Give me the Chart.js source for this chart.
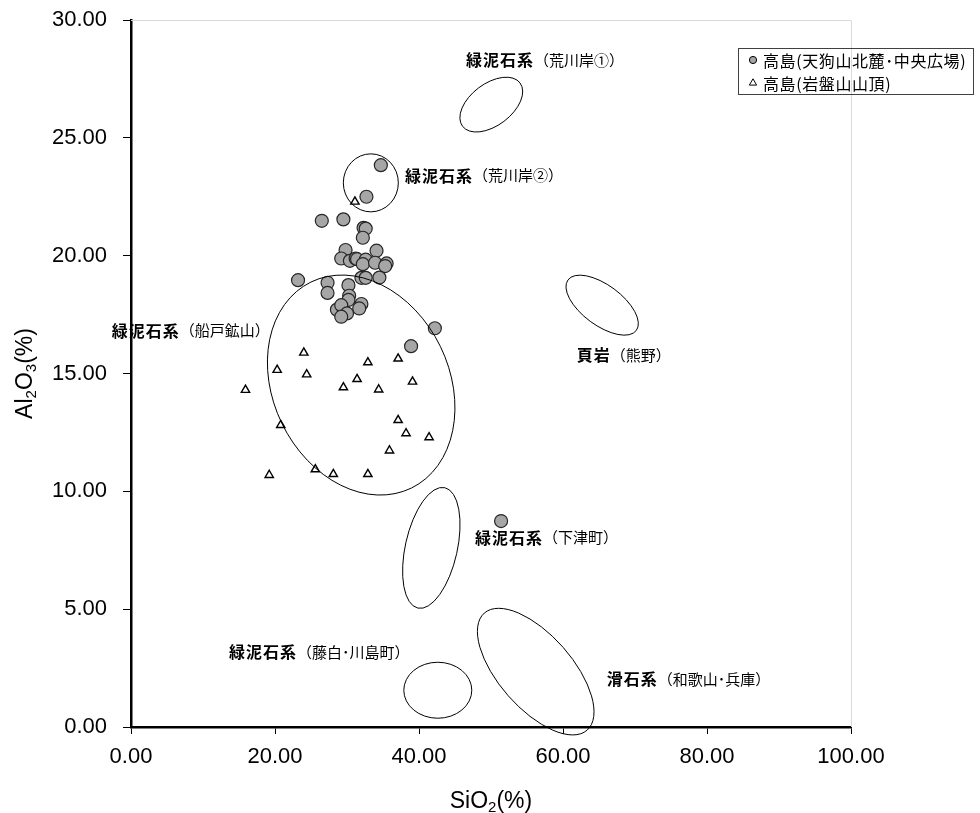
<!DOCTYPE html>
<html>
<head>
<meta charset="utf-8">
<script src="https://cdn.jsdelivr.net/npm/chart.js@4.4.1/dist/chart.umd.min.js"></script>
<style>
html,body{margin:0;padding:0;background:#fff;}
canvas{display:block;}
</style>
</head>
<body>
<canvas id="c" width="980" height="813"></canvas>
<script>
// ---- data ----
const seriesNames = ['高島(天狗山北麓･中央広場)', '高島(岩盤山山頂)'];

// circles: 高島(天狗山北麓・中央広場)
const tenguSiO2 = [34.7, 32.7, 26.5, 29.5, 32.3, 32.6, 32.2, 29.8, 34.1, 29.2, 30.4, 31.2, 31.4, 32.6, 32.2, 33.9, 35.5, 35.3,
  23.2, 27.3, 27.3, 32.0, 32.6, 34.5, 30.2, 30.3, 30.2, 32.0, 31.7, 28.6, 29.2, 30.0, 29.2, 42.2, 38.9, 51.4];
const tenguAl2O3 = [23.84, 22.50, 21.48, 21.54, 21.18, 21.15, 20.76, 20.24, 20.21, 19.88, 19.78, 19.88, 19.85, 19.83, 19.64, 19.70, 19.67, 19.56,
  18.96, 18.85, 18.42, 19.06, 19.06, 19.07, 18.75, 18.30, 18.12, 17.95, 17.76, 17.71, 17.90, 17.55, 17.41, 16.92, 16.16, 8.74];

// triangles: 高島(岩盤山山頂)
const ganbanSiO2 = [31.1, 24.0, 32.9, 37.1, 20.3, 24.4, 31.4, 29.5, 34.4, 39.1, 15.9, 20.8, 37.1, 38.2, 41.4, 35.9, 19.2, 25.6, 28.1, 32.9];
const ganbanAl2O3 = [22.29, 15.88, 15.47, 15.63, 15.15, 14.96, 14.76, 14.41, 14.32, 14.65, 14.30, 12.81, 13.02, 12.46, 12.29, 11.73, 10.69, 10.93, 10.73, 10.73];

const xTickValues = [0, 20, 40, 60, 80, 100];
const yTickValues = [0, 5, 10, 15, 20, 25, 30];

// reference regions (ellipse centres in data units) and their labels
const regionMain = ['緑泥石系', '緑泥石系', '緑泥石系', '頁岩', '緑泥石系', '緑泥石系', '滑石系'];
const regionSub = ['（荒川岸①）', '（荒川岸②）', '（船戸鉱山）', '（熊野）', '（下津町）', '（藤白･川島町）', '（和歌山･兵庫）'];
const regionCenterSiO2 = [50.04, 33.31, 31.97, 65.44, 41.71, 42.61, 56.21];
const regionCenterAl2O3 = [26.41, 23.09, 14.51, 17.90, 7.60, 1.56, 2.35];
const labelSiO2 = [46.53, 38.06, -2.68, 61.9, 47.78, 13.6, 66.07];
const labelAl2O3 = [28.30, 23.40, 16.82, 15.78, 8.04, 3.18, 2.02];

// ---- shape styles (pixel sizes of the region ellipses) ----
const ellipseShape = [
  {rx: 36, ry: 21, rot: -37},
  {rx: 27.5, ry: 29, rot: 0},
  {rx: 114.6, ry: 88.1, rot: 64},
  {rx: 42.5, ry: 20.1, rot: 36.5},
  {rx: 26, ry: 61.7, rot: 12.6},
  {rx: 34, ry: 28, rot: 0},
  {rx: 77.9, ry: 36.6, rot: 48.7}
];

const NUMFONT = '"Liberation Sans", Arial, sans-serif';
const JPFONT = '"Noto Sans CJK JP", sans-serif';

const overlay = {
  id: 'overlay',
  beforeDatasetsDraw(chart) {
    const {ctx, chartArea: a} = chart;
    ctx.save();
    ctx.strokeStyle = '#d9d9d9';
    ctx.lineWidth = 1;
    ctx.beginPath();
    ctx.moveTo(a.left, a.top + 0.5);
    ctx.lineTo(a.right + 0.5, a.top + 0.5);
    ctx.lineTo(a.right + 0.5, a.bottom);
    ctx.stroke();
    ctx.restore();
  },
  afterDatasetsDraw(chart) {
    const {ctx, scales: {x, y}} = chart;
    ctx.save();
    // ellipses
    ctx.strokeStyle = '#000';
    ctx.lineWidth = 1;
    for (let i = 0; i < regionCenterSiO2.length; i++) {
      const s = ellipseShape[i];
      const cx = x.getPixelForValue(regionCenterSiO2[i]);
      const cy = y.getPixelForValue(regionCenterAl2O3[i]);
      ctx.beginPath();
      ctx.ellipse(cx, cy, s.rx, s.ry, s.rot * Math.PI / 180, 0, Math.PI * 2);
      ctx.stroke();
    }
    // labels
    ctx.fillStyle = '#000';
    ctx.textBaseline = 'middle';
    ctx.textAlign = 'left';
    for (let i = 0; i < regionMain.length; i++) {
      const lx = x.getPixelForValue(labelSiO2[i]);
      const ly = y.getPixelForValue(labelAl2O3[i]);
      ctx.font = 'bold 16px ' + JPFONT;
      ctx.letterSpacing = '1px';
      ctx.fillText(regionMain[i], lx, ly);
      const w = ctx.measureText(regionMain[i]).width;
      ctx.font = '15px ' + JPFONT;
      ctx.letterSpacing = '0px';
      ctx.fillText(regionSub[i], lx + w, ly);
    }
    ctx.restore();
  },
  afterDraw(chart) {
    const {ctx, chartArea: a} = chart;
    ctx.save();
    ctx.fillStyle = '#000';
    ctx.textBaseline = 'alphabetic';
    // axis title helper with subscripts
    function drawParts(parts, cx, cy) {
      let total = 0;
      parts.forEach(p => { ctx.font = (p.sub ? '15px ' : '23px ') + NUMFONT; total += ctx.measureText(p.t).width; });
      let px = cx - total / 2;
      parts.forEach(p => {
        ctx.font = (p.sub ? '15px ' : '23px ') + NUMFONT;
        ctx.fillText(p.t, px, cy + (p.sub ? 4 : 0));
        px += ctx.measureText(p.t).width;
      });
    }
    drawParts([{t: 'SiO'}, {t: '2', sub: true}, {t: '(%)'}], (a.left + a.right) / 2, 808);
    ctx.save();
    ctx.translate(32, (a.top + a.bottom) / 2);
    ctx.rotate(-Math.PI / 2);
    drawParts([{t: 'Al'}, {t: '2', sub: true}, {t: 'O'}, {t: '3', sub: true}, {t: '(%)'}], 0, 0);
    ctx.restore();

    // legend
    const lx = a.right - 113, ly = 48;
    ctx.strokeStyle = '#404040';
    ctx.lineWidth = 1;
    ctx.strokeRect(lx + 0.5, ly + 0.5, 235, 46);
    ctx.font = '16px ' + JPFONT;
    ctx.textBaseline = 'middle';
    chart.data.datasets.forEach((ds, i) => {
      const my = ly + 12 + i * 23;
      const mx = lx + 15;
      ctx.beginPath();
      if (ds.pointStyle === 'triangle') {
        const r = 4.2;
        ctx.moveTo(mx, my - r);
        ctx.lineTo(mx + r * Math.sin(2 * Math.PI / 3), my - r * Math.cos(2 * Math.PI / 3));
        ctx.lineTo(mx + r * Math.sin(4 * Math.PI / 3), my - r * Math.cos(4 * Math.PI / 3));
        ctx.closePath();
      } else {
        ctx.arc(mx, my, 3.6, 0, Math.PI * 2);
      }
      ctx.fillStyle = ds.backgroundColor;
      ctx.fill();
      ctx.strokeStyle = '#000';
      ctx.lineWidth = 1;
      ctx.stroke();
      ctx.fillStyle = '#000';
      ctx.letterSpacing = '0.6px';
      ctx.fillText(ds.label, mx + 10, my + 1);
      ctx.letterSpacing = '0px';
    });
    ctx.restore();
  }
};

const toPoints = (xs, ys) => xs.map((v, i) => ({x: v, y: ys[i]}));

new Chart(document.getElementById('c'), {
  type: 'scatter',
  data: {
    datasets: [
      {
        label: seriesNames[0],
        data: toPoints(tenguSiO2, tenguAl2O3),
        pointStyle: 'circle',
        pointRadius: 6.5,
        pointHoverRadius: 6.5,
        backgroundColor: '#a6a6a6',
        borderColor: '#262626',
        borderWidth: 1.2
      },
      {
        label: seriesNames[1],
        data: toPoints(ganbanSiO2, ganbanAl2O3),
        pointStyle: 'triangle',
        pointRadius: 4.8,
        pointHoverRadius: 4.8,
        backgroundColor: '#ffffff',
        borderColor: '#000000',
        borderWidth: 1.4
      }
    ]
  },
  options: {
    responsive: false,
    animation: false,
    events: [],
    layout: {padding: {left: 0, top: 20, right: 129, bottom: 0}},
    plugins: {legend: {display: false}, tooltip: {enabled: false}},
    scales: {
      x: {
        type: 'linear',
        min: xTickValues[0],
        max: xTickValues[xTickValues.length - 1],
        afterBuildTicks: s => { s.ticks = xTickValues.map(v => ({value: v})); },
        afterFit: s => { s.height = 86; },
        ticks: {
          font: {family: NUMFONT, size: 22},
          color: '#000',
          padding: 10,
          maxRotation: 0,
          callback: v => Number(v).toFixed(2)
        },
        grid: {display: true, drawOnChartArea: false, drawTicks: true, tickLength: 7, color: '#000', lineWidth: 1},
        border: {display: true, color: '#000', width: 2.5}
      },
      y: {
        type: 'linear',
        min: yTickValues[0],
        max: yTickValues[yTickValues.length - 1],
        afterBuildTicks: s => { s.ticks = yTickValues.map(v => ({value: v})); },
        afterFit: s => { s.width = 131; s.paddingTop = 0; s.paddingBottom = 0; },
        ticks: {
          font: {family: NUMFONT, size: 22},
          color: '#000',
          padding: 16,
          callback: v => Number(v).toFixed(2)
        },
        grid: {display: true, drawOnChartArea: false, drawTicks: true, tickLength: 8, color: '#000', lineWidth: 1},
        border: {display: true, color: '#000', width: 2.5}
      }
    }
  },
  plugins: [overlay]
});
</script>
</body>
</html>
